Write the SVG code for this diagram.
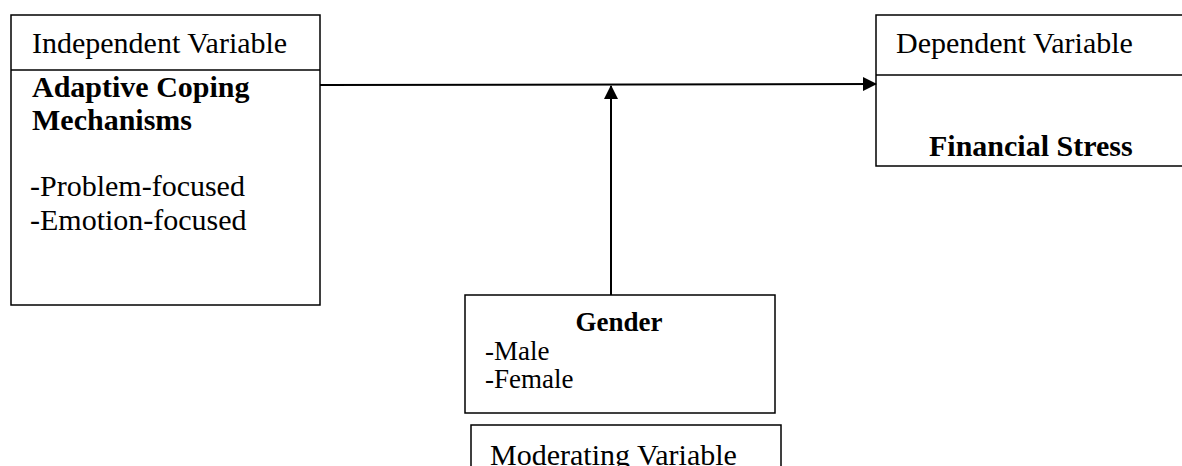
<svg xmlns="http://www.w3.org/2000/svg" width="1182" height="466" viewBox="0 0 1182 466">
<style>
.box{fill:#fff;stroke:#000;stroke-width:1.5}
.div{stroke:#000;stroke-width:1.5}
.t{font-family:"Liberation Serif","Times New Roman",serif;font-size:30px;fill:#000}
.s{font-size:27px}
.b{font-weight:bold}
.c{stroke:#000;stroke-width:2;fill:none}
</style>
<defs>
<marker id="ah" markerWidth="14" markerHeight="14" refX="13" refY="7" orient="auto" markerUnits="userSpaceOnUse" viewBox="0 0 14 14">
<path d="M0,0 L14,7 L0,14 z" fill="#000"/>
</marker>
</defs>
<rect width="1182" height="466" fill="#fff"/>
<g id="independent">
<rect class="box" x="11" y="15" width="309" height="290"/>
<line class="div" x1="11" y1="70" x2="320" y2="70"/>
<text class="t" x="32" y="53">Independent Variable</text>
<text class="t b" x="32" y="97">Adaptive Coping</text>
<text class="t b" x="32" y="130">Mechanisms</text>
<text class="t" x="30" y="196">-Problem-focused</text>
<text class="t" x="30" y="230">-Emotion-focused</text>
</g>
<g id="dependent">
<rect class="box" x="876" y="15" width="320" height="151"/>
<line class="div" x1="876" y1="75" x2="1190" y2="75"/>
<text class="t" x="896" y="53">Dependent Variable</text>
<text class="t b" x="929" y="156">Financial Stress</text>
</g>
<g id="gender">
<rect class="box" x="465" y="295" width="310" height="118"/>
<text class="t s b" x="619" y="331" text-anchor="middle">Gender</text>
<text class="t s" x="485" y="360">-Male</text>
<text class="t s" x="485" y="388">-Female</text>
</g>
<g id="moderating">
<rect class="box" x="471" y="425" width="310" height="60"/>
<text class="t" x="490" y="465">Moderating Variable</text>
</g>
<g id="connectors">
<line class="c" x1="320" y1="85" x2="876" y2="84" marker-end="url(#ah)"/>
<line class="c" x1="611" y1="295" x2="611" y2="86" marker-end="url(#ah)"/>
</g>
</svg>
